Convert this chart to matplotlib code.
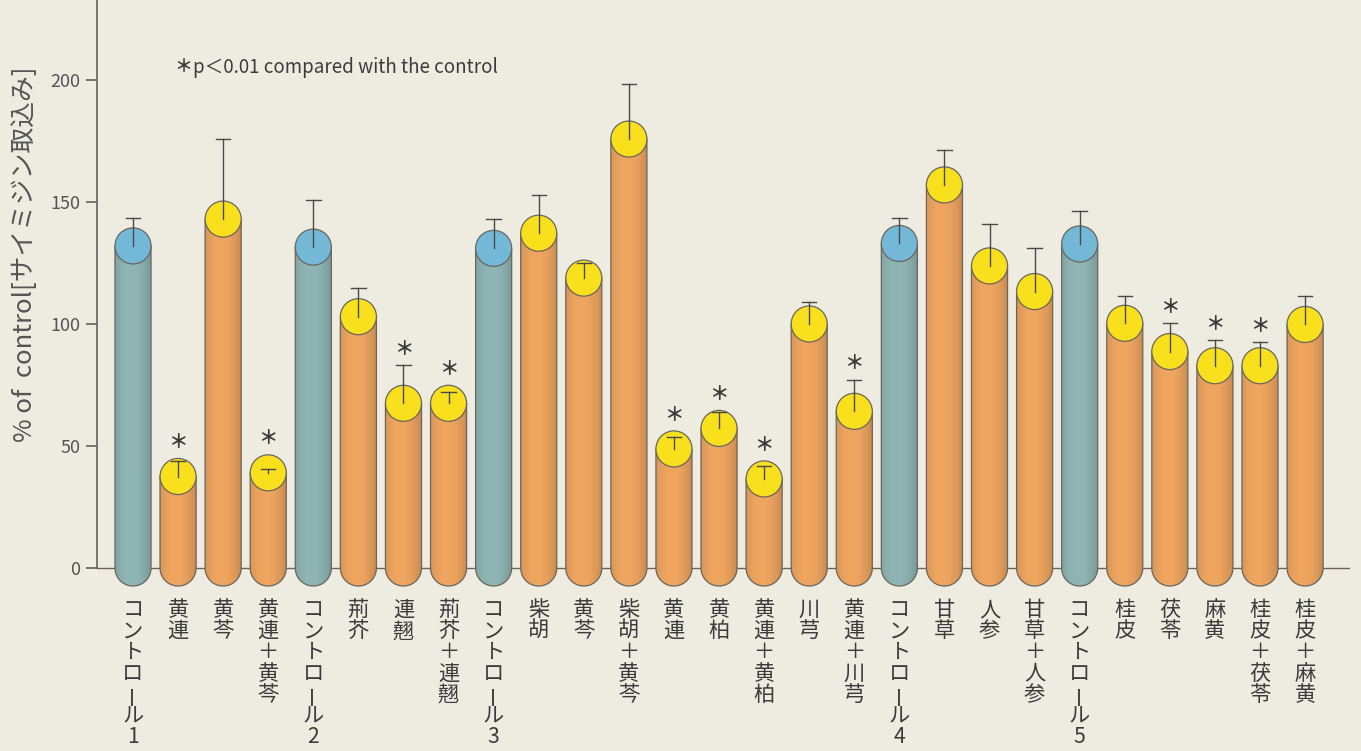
import numpy as np
import matplotlib.pyplot as plt
from matplotlib.patches import Ellipse, Polygon

plt.rcParams['font.family'] = ['Noto Sans CJK JP', 'DejaVu Sans']

# --- data ---
labels = ["コントロール1", "黄連", "黄芩", "黄連＋黄芩", "コントロール2", "荊芥",
          "連翹", "荊芥＋連翹", "コントロール3", "柴胡", "黄芩", "柴胡＋黄芩",
          "黄連", "黄柏", "黄連＋黄柏", "川芎", "黄連＋川芎", "コントロール4",
          "甘草", "人参", "甘草＋人参", "コントロール5", "桂皮", "茯苓", "麻黄",
          "桂皮＋茯苓", "桂皮＋麻黄"]
values = [132, 37.5, 143, 39, 131.5, 103, 67.5, 67.5, 131, 137.2, 118.8, 175.8,
          48.8, 57.2, 36.5, 100, 64.2, 133, 157, 123.8, 113.3, 132.8, 100.3,
          88.7, 82.9, 82.9, 99.8]
err_top = [143.6, 44, 175.8, 40.5, 150.8, 114.6, 83.2, 72.3, 143.2, 153, 125,
           198.2, 53.5, 64, 41.8, 109.2, 77.2, 143.6, 171.3, 141, 131, 146.3,
           111.5, 100.3, 93.4, 92.5, 111.5]
controls = [0, 4, 8, 17, 21]
significant = [1, 3, 6, 7, 12, 13, 14, 16, 23, 24, 25]

yticks = [0, 50, 100, 150, 200]
ylabel = "% of  control[サイミジン取込み]"
note = "p＜0.01 compared with the control"

# --- style ---
bg = "#EEEBE1"
body_ctrl = np.array([0x8F, 0xB6, 0xB5]) / 255
cap_ctrl = "#74B8D8"
body_test = np.array([0xF0, 0xA6, 0x60]) / 255
cap_test = "#F8E01C"
edge = "#6A665E"
txt = "#3C3C3C"

W, H = 1361, 751
px_x = 45.08   # pixels per bar slot
px_y = 2.44    # pixels per % unit
x0_px, zero_px = 133, 568
ax_left, ax_right = 97, 1350

fig = plt.figure(figsize=(W / 100, H / 100), dpi=100)
fig.patch.set_facecolor(bg)
ax = fig.add_axes([ax_left / W, 0, (ax_right - ax_left) / W, 1])
ax.set_facecolor(bg)
xlim = ((ax_left - x0_px) / px_x, (ax_right - x0_px) / px_x)
ylim = (-(H - zero_px) / px_y, zero_px / px_y)

hw = 0.4
ry = hw * px_x / px_y

# baseline
ax.plot(xlim, [0, 0], color=edge, lw=1.0, zorder=1)

shade = 1 - 0.13 * (np.abs(np.linspace(-1, 1, 40) + 0.15)) ** 2
for i, (v, top) in enumerate(zip(values, err_top)):
    is_ctrl = i in controls
    base = body_ctrl if is_ctrl else body_test
    t = np.linspace(np.pi, 2 * np.pi, 30)
    pts = [(i - hw, v), (i - hw, 0)]
    pts += list(zip(i + hw * np.cos(t), ry * np.sin(t)))
    pts += [(i + hw, 0), (i + hw, v)]
    poly = Polygon(pts, closed=True, fc="none", ec=edge, lw=0.9, zorder=3)
    ax.add_patch(poly)
    grad = np.clip(base[None, :, None] * shade[None, None, :], 0, 1)
    grad = np.transpose(grad, (0, 2, 1))
    im = ax.imshow(grad, extent=[i - hw, i + hw, -ry, v], aspect="auto",
                   zorder=2, interpolation="bilinear")
    im.set_clip_path(poly)
    cap = Ellipse((i, v), 2 * hw, 2 * ry, fc=cap_ctrl if is_ctrl else cap_test,
                  ec=edge, lw=0.9, zorder=4)
    ax.add_patch(cap)
    ax.plot([i, i], [v, top], color="#4A4A4A", lw=1.0, zorder=5)
    ax.plot([i - 0.16, i + 0.16], [top, top], color="#4A4A4A", lw=1.0, zorder=5)
    if i in significant:
        ax.text(i, max(top, v + ry) + 6.5, "＊", ha="center", va="center",
                fontsize=14, fontweight="bold", color="#3A3A3A", zorder=6)

    # vertical category label, one character per line
    for j, ch in enumerate(labels[i]):
        yy = (zero_px - (610 + 21.2 * j)) / px_y
        ax.text(i, yy, ch, ha="center", va="center", fontsize=15.3, color=txt,
                rotation=90 if ch == "ー" else 0, clip_on=False)

ax.set_xlim(xlim)
ax.set_ylim(ylim)
for s in ["top", "right", "bottom"]:
    ax.spines[s].set_visible(False)
ax.spines["left"].set_bounds(0, ylim[1])
ax.spines["left"].set_color("#555555")
ax.spines["left"].set_linewidth(1.1)
ax.set_xticks([])
ax.set_yticks(yticks)
ax.tick_params(axis="y", direction="out", length=8, width=1.1, colors="#555555",
               labelsize=13, pad=4)

fig.text(25 / W, 1 - 254 / H, ylabel, rotation=90, ha="center", va="center",
         fontsize=18.5, color="#555555")
fig.text(183 / W, 1 - 66 / H, "＊", ha="center", va="center", fontsize=13,
         fontweight="bold", color=txt)
fig.text(193 / W, 1 - 67 / H, note, ha="left", va="center", fontsize=13.5,
         color=txt)

fig.savefig("out.png", dpi=100, facecolor=bg)
